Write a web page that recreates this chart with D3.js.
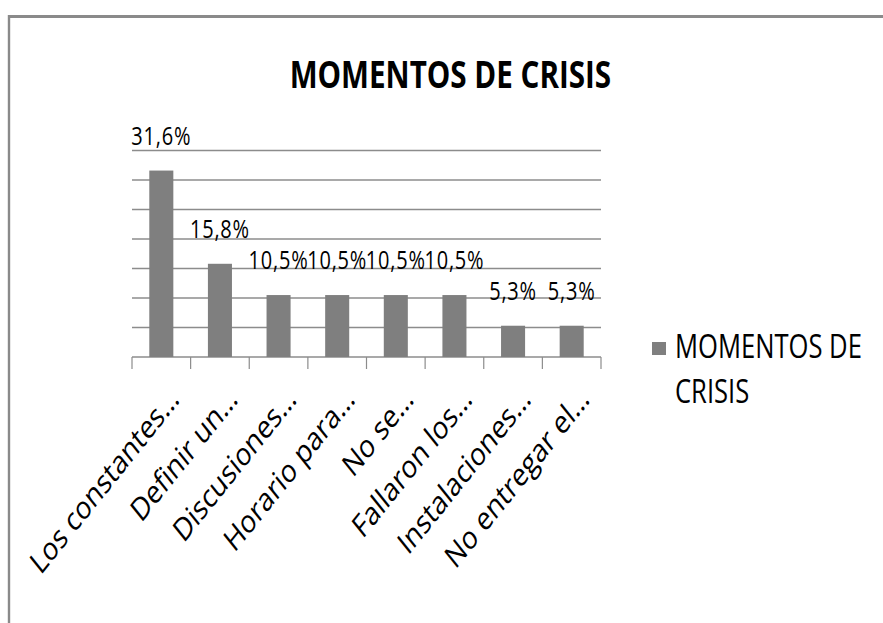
<!DOCTYPE html>
<html>
<head>
<meta charset="utf-8">
<script src="https://cdn.jsdelivr.net/npm/d3@7/dist/d3.min.js"></script>
<style>
  body { margin: 0; background: #fff; }
  text { font-family: 'Open Sans', sans-serif; fill: #000; }
</style>
</head>
<body>
<div id="chart"></div>
<script>
const categories = [
  'Los constantes…',
  'Definir un…',
  'Discusiones…',
  'Horario para…',
  'No se…',
  'Fallaron los…',
  'Instalaciones…',
  'No entregar el…'
]
const values = [31.6, 15.8, 10.5, 10.5, 10.5, 10.5, 5.3, 5.3]
const seriesName = 'MOMENTOS DE CRISIS'
const titleText = 'MOMENTOS DE CRISIS'

const width = 883
const height = 623
// the picture looks squeezed sideways, so everything is drawn wider and then scaled
const squeeze = 0.8

const svg = d3
  .select('#chart')
  .append('svg')
  .attr('width', width)
  .attr('height', height)

const g = svg.append('g').attr('transform', `scale(${squeeze},1)`)

// frame of the chart area (runs off the page on the right and bottom)
g.append('rect')
  .attr('x', 9 / squeeze)
  .attr('y', 16.5)
  .attr('width', 1200)
  .attr('height', 700)
  .attr('fill', 'none')
  .attr('stroke', '#8a8a8a')
  .attr('stroke-width', 3)

const xScale = d3
  .scaleBand()
  .domain(categories)
  .range([165, 751.25])
  .paddingInner(0.59)
  .paddingOuter(0.295)

const yScale = d3
  .scaleLinear()
  .domain([0, 35])
  .range([357, 150.5])

const pct = d3.formatLocale({ decimal: ',', thousands: '.', grouping: [3], currency: ['', ''] }).format('.1f')

// gridlines
g.selectAll('.grid')
  .data(yScale.ticks(7))
  .enter()
  .append('line')
  .attr('class', 'grid')
  .attr('x1', xScale.range()[0])
  .attr('x2', xScale.range()[1])
  .attr('y1', d => yScale(d))
  .attr('y2', d => yScale(d))
  .attr('stroke', '#8c8c8c')
  .attr('stroke-width', 1.5)

// category ticks below the axis, at band edges
const step = xScale.step()
g.selectAll('.tick')
  .data(d3.range(categories.length + 1))
  .enter()
  .append('line')
  .attr('class', 'tick')
  .attr('x1', i => xScale.range()[0] + i * step)
  .attr('x2', i => xScale.range()[0] + i * step)
  .attr('y1', yScale(0))
  .attr('y2', yScale(0) + 12)
  .attr('stroke', '#8c8c8c')
  .attr('stroke-width', 1.5)

g.selectAll('.bar')
  .data(values)
  .enter()
  .append('rect')
  .attr('class', 'bar')
  .attr('x', (d, i) => xScale(categories[i]))
  .attr('width', xScale.bandwidth())
  .attr('y', d => yScale(d))
  .attr('height', d => yScale(0) - yScale(d))
  .attr('fill', '#7f7f7f')

g.selectAll('.value')
  .data(values)
  .enter()
  .append('text')
  .attr('class', 'value')
  .attr('x', (d, i) => xScale(categories[i]) + xScale.bandwidth() / 2)
  .attr('y', d => yScale(d) - 26)
  .attr('text-anchor', 'middle')
  .attr('font-size', 25)
  .attr('letter-spacing', 1)
  .text(d => pct(d) + '%')

g.selectAll('.cat')
  .data(categories)
  .enter()
  .append('text')
  .attr('class', 'cat')
  .attr('text-anchor', 'end')
  .attr('font-size', 32)
  .attr('transform', d => `translate(${xScale(d) + xScale.bandwidth() / 2 + 24},401) rotate(-45)`)
  .text(d => d)

g.append('text')
  .attr('x', 563)
  .attr('y', 88)
  .attr('text-anchor', 'middle')
  .attr('font-size', 37)
  .attr('font-weight', 'bold')
  .text(titleText)

// legend
const legend = g.append('g').attr('transform', 'translate(815,342)')
legend
  .append('rect')
  .attr('width', 17.5)
  .attr('height', 13)
  .attr('fill', '#7f7f7f')
legend
  .append('text')
  .attr('x', 28.75)
  .attr('y', 16)
  .attr('font-size', 32)
  .text(seriesName.split(' ').slice(0, 2).join(' '))
legend
  .append('text')
  .attr('x', 28.75)
  .attr('y', 61)
  .attr('font-size', 32)
  .text(seriesName.split(' ').slice(2).join(' '))
</script>
</body>
</html>
